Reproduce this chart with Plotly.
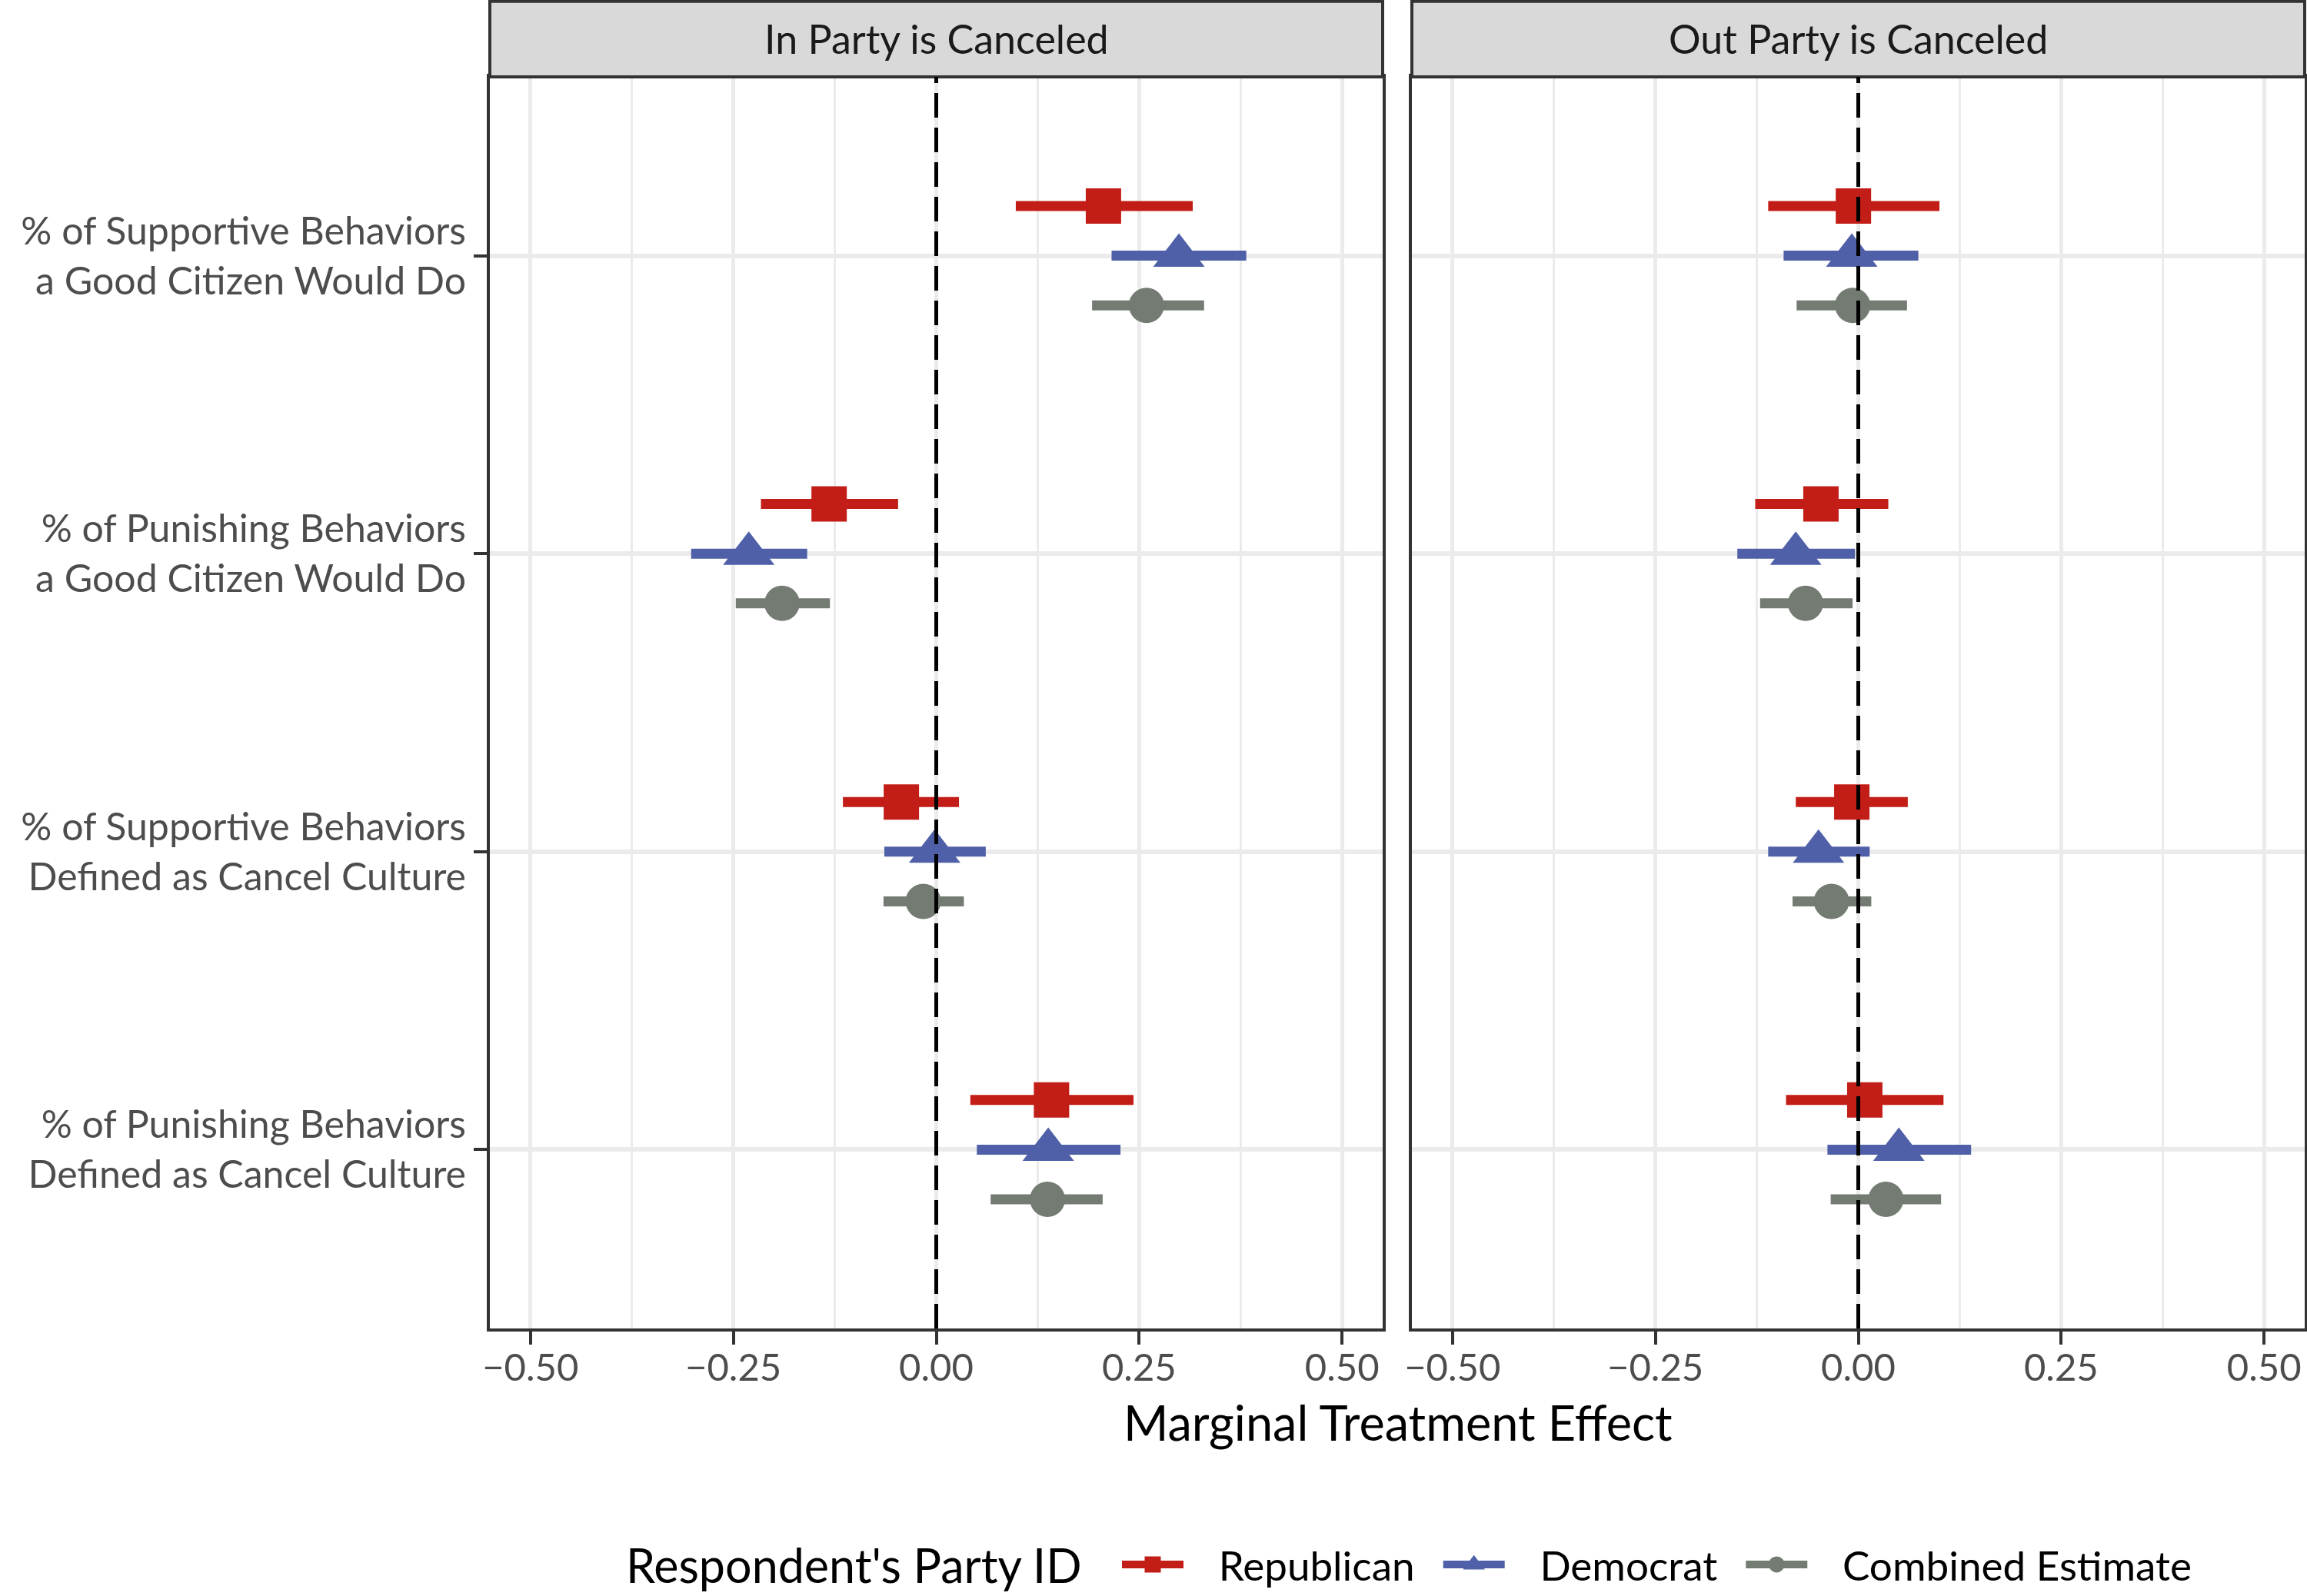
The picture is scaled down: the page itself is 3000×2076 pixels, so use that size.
import plotly.graph_objects as go

# categories, top to bottom
outcomes = [
    '% of Supportive Behaviors<br>a Good Citizen Would Do',
    '% of Punishing Behaviors<br>a Good Citizen Would Do',
    '% of Supportive Behaviors<br>Defined as Cancel Culture',
    '% of Punishing Behaviors<br>Defined as Cancel Culture',
]
panels = ['In Party is Canceled', 'Out Party is Canceled']
groups = ['Republican', 'Democrat', 'Combined Estimate']

x_ticks = [-0.5, -0.25, 0.0, 0.25, 0.5]
x_tick_labels = ['\u22120.50', '\u22120.25', '0.00', '0.25', '0.50']

# In Party is Canceled
in_rep_est = [0.206, -0.132, -0.043, 0.142]
in_rep_lo = [0.098, -0.216, -0.115, 0.042]
in_rep_hi = [0.316, -0.047, 0.028, 0.243]
in_dem_est = [0.299, -0.231, -0.002, 0.138]
in_dem_lo = [0.216, -0.302, -0.064, 0.050]
in_dem_hi = [0.382, -0.159, 0.061, 0.227]
in_comb_est = [0.259, -0.190, -0.016, 0.137]
in_comb_lo = [0.192, -0.247, -0.065, 0.067]
in_comb_hi = [0.330, -0.131, 0.034, 0.205]

# Out Party is Canceled
out_rep_est = [-0.006, -0.046, -0.008, 0.008]
out_rep_lo = [-0.111, -0.127, -0.077, -0.089]
out_rep_hi = [0.100, 0.037, 0.061, 0.105]
out_dem_est = [-0.008, -0.077, -0.049, 0.050]
out_dem_lo = [-0.092, -0.149, -0.111, -0.038]
out_dem_hi = [0.074, -0.004, 0.014, 0.139]
out_comb_est = [-0.007, -0.065, -0.033, 0.034]
out_comb_lo = [-0.076, -0.121, -0.081, -0.034]
out_comb_hi = [0.060, -0.007, 0.016, 0.102]

series = {
    0: [(in_rep_est, in_rep_lo, in_rep_hi),
        (in_dem_est, in_dem_lo, in_dem_hi),
        (in_comb_est, in_comb_lo, in_comb_hi)],
    1: [(out_rep_est, out_rep_lo, out_rep_hi),
        (out_dem_est, out_dem_lo, out_dem_hi),
        (out_comb_est, out_comb_lo, out_comb_hi)],
}

colors = {'Republican': '#C21E17', 'Democrat': '#4F60A8',
          'Combined Estimate': '#737B72'}
symbols = {'Republican': 'square', 'Democrat': 'triangle-up',
           'Combined Estimate': 'circle'}
sizes = {'Republican': 46, 'Democrat': 58, 'Combined Estimate': 46}

FONT = 'Lato'
W, H = 3000, 2076
M_T, M_B = 100, 345
plot_h = H - M_T - M_B
dodge = 0.5
NBSP = '\u00a0'

fig = go.Figure()

for p in range(2):
    xa = 'x' if p == 0 else 'x2'
    ya = 'y' if p == 0 else 'y2'
    for g, name in enumerate(groups):
        est, lo, hi = series[p][g]
        ypos = [i + 1 + (g - 1) * dodge / 3 for i in range(len(outcomes))]
        fig.add_trace(go.Scatter(
            x=est, y=ypos, xaxis=xa, yaxis=ya,
            mode='markers', name=name, showlegend=False,
            marker=dict(symbol=symbols[name], size=sizes[name],
                        color=colors[name], line=dict(width=0)),
            error_x=dict(type='data', symmetric=False,
                         array=[h - e for h, e in zip(hi, est)],
                         arrayminus=[e - l for e, l in zip(est, lo)],
                         color=colors[name], thickness=13, width=0),
        ))

# legend-only traces (key drawn as line + marker like ggplot)
for name in groups:
    fig.add_trace(go.Scatter(
        x=[None], y=[None], mode='lines+markers',
        name=NBSP * 3 + name + NBSP * 2,
        line=dict(color=colors[name], width=10),
        marker=dict(symbol=symbols[name], size=16, color=colors[name],
                    line=dict(color=colors[name], width=5)),
    ))

xaxis_style = dict(
    range=[-0.55, 0.55], tickvals=x_ticks, ticktext=x_tick_labels,
    showgrid=True, gridcolor='#EBEBEB', gridwidth=5,
    minor=dict(dtick=0.125, tick0=0, showgrid=True, gridcolor='#EBEBEB',
               gridwidth=3, ticks=''),
    zeroline=False, showline=True, mirror=True, linecolor='#333333',
    linewidth=4, ticks='outside', ticklen=17, tickwidth=4,
    tickcolor='#333333', automargin=False, ticklabelstandoff=-12,
    tickfont=dict(family=FONT, size=49, color='#4D4D4D'),
)
yaxis_style = dict(
    range=[len(outcomes) + 0.6, 0.4],
    tickvals=list(range(1, len(outcomes) + 1)), ticktext=outcomes,
    showgrid=True, gridcolor='#EBEBEB', gridwidth=6, zeroline=False,
    showline=True, mirror=True, linecolor='#333333', linewidth=4,
    automargin=False,
)

fig.update_layout(
    width=W, height=H,
    margin=dict(l=0, r=0, t=M_T, b=M_B),
    plot_bgcolor='white', paper_bgcolor='white',
    xaxis=dict(domain=[637 / W, 1798 / W], anchor='y', **xaxis_style),
    xaxis2=dict(domain=[1836 / W, 2997 / W], anchor='y2', **xaxis_style),
    yaxis=dict(anchor='x', ticks='outside', ticklen=17, tickwidth=4,
               tickcolor='#333333',
               tickfont=dict(family=FONT, size=50, color='#4D4D4D'),
               **yaxis_style),
    yaxis2=dict(anchor='x2', matches='y', showticklabels=False, ticks='',
                **yaxis_style),
    legend=dict(
        orientation='h', x=1454 / W, xanchor='left',
        y=-308 / plot_h, yanchor='middle',
        font=dict(family=FONT, size=53, color='black'),
        itemwidth=80,
    ),
    font=dict(family=FONT),
)

strip_h = M_T / plot_h
for p, xa, ya in [(0, 'x', 'y'), (1, 'x2', 'y2')]:
    fig.add_shape(type='rect', xref=f'{xa} domain', yref=f'{ya} domain',
                  x0=0, x1=1, y0=1, y1=1 + strip_h - 0.001,
                  fillcolor='#D9D9D9', line=dict(color='#333333', width=4))
    fig.add_annotation(text=panels[p], xref=f'{xa} domain',
                       yref=f'{ya} domain', x=0.5, y=1 + strip_h / 2,
                       showarrow=False, yanchor='middle',
                       font=dict(family=FONT, size=52, color='#1A1A1A'))
    fig.add_shape(type='line', xref=xa, yref=f'{ya} domain',
                  x0=0, x1=0, y0=0, y1=1,
                  line=dict(color='black', width=5, dash='32px,13px'))

fig.add_annotation(text='Marginal Treatment Effect', xref='paper',
                   yref='paper', x=0.606, y=-122 / plot_h,
                   showarrow=False, yanchor='middle',
                   font=dict(family=FONT, size=63, color='black'))

# legend title, placed to the left of the legend keys
fig.add_annotation(text="Respondent's Party ID", xref='paper',
                   yref='paper', x=1110 / W, y=-308 / plot_h,
                   showarrow=False, xanchor='center', yanchor='middle',
                   font=dict(family=FONT, size=61, color='black'))

# page body has a default margin; remove it so the figure fills the window
fig.write_html('out.html', config={'displayModeBar': False},
               post_script="document.body.style.margin='0px';")
